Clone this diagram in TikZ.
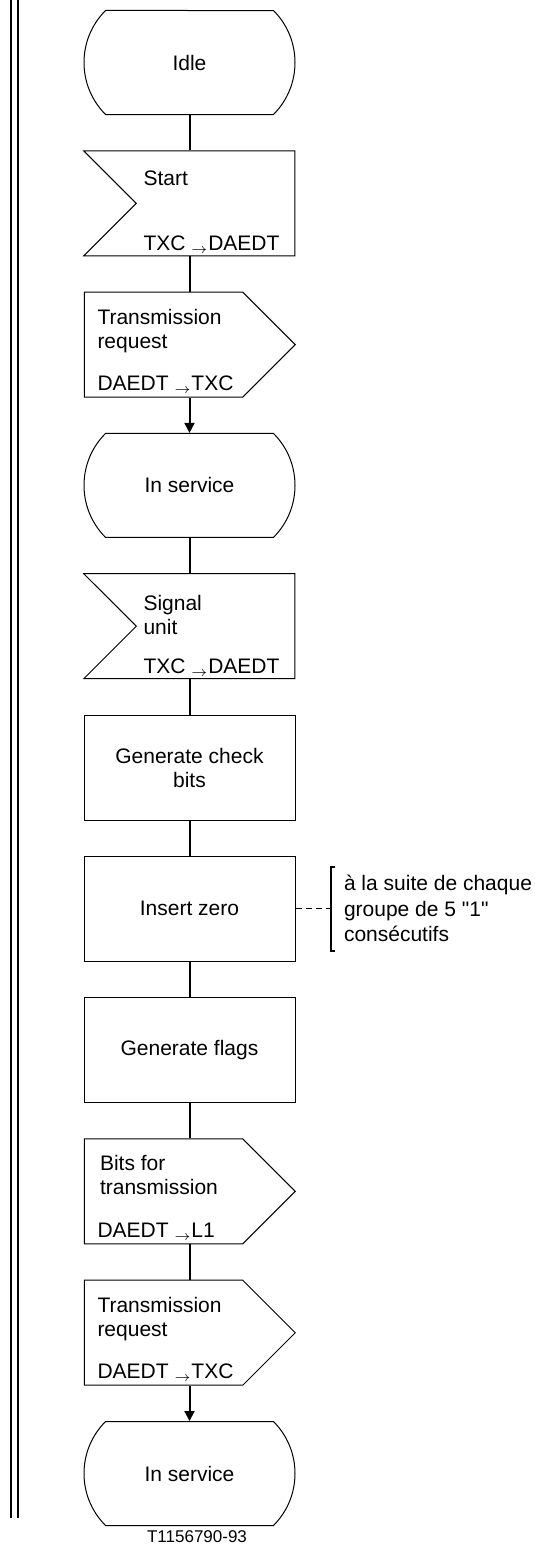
\documentclass[tikz,border=0pt]{standalone}
\usepackage{fontspec}
\setmainfont{Liberation Sans}
\usetikzlibrary{arrows.meta,positioning,shapes.misc,shapes.symbols}
\tikzset{
  every picture/.style={line width=0.5pt, font=\fontsize{10.5pt}{12pt}\selectfont},
  node distance=17.65pt,
  state/.style={draw, rounded rectangle, rounded rectangle arc length=90, minimum width=105.5pt, minimum height=52pt, inner sep=0pt},
  task/.style={draw, rectangle, minimum width=105.5pt, minimum height=52.5pt, align=center, inner sep=0pt},
  inbox/.style={draw, signal, signal from=west, signal to=nowhere, signal pointer angle=90, minimum width=105.5pt, minimum height=52.5pt, inner sep=0pt},
  outbox/.style={draw, signal, signal to=east, signal pointer angle=90, minimum width=105.5pt, minimum height=52.5pt, inner sep=0pt},
  txt/.style={inner sep=0pt, align=left},
  link/.style={line width=1pt},
  flow/.style={link, -{Triangle[length=5pt,width=5pt]}},
  note/.style={inner sep=0pt, align=left, font=\fontsize{10.5pt}{12.75pt}\selectfont},
}

\begin{document}
\begin{tikzpicture}
  \useasboundingbox (0,0) rectangle (267.5pt,-773.5pt);
  % margin rule
  \draw[line width=1pt] (5.5pt,0) -- (5.5pt,-759pt);
  \draw[line width=1pt] (8.75pt,0) -- (8.75pt,-759pt);

  \node[state] (idle) at (94.75pt,-31.25pt) {Idle};
  \node[inbox, below=of idle, xshift=13pt] (start) {};
  \node[txt, anchor=north west] (startT) at ([xshift=-36.25pt,yshift=-10pt]start.north) {Start};
  \node[txt, anchor=base west] (startB) at ([xshift=-36.25pt,yshift=3pt]start.south) {TXC $_{\rightarrow}$DAEDT};
  \node[outbox, below=of start, xshift=-26pt] (req) {};
  \node[txt, anchor=north west] (reqT) at ([xshift=-33.25pt,yshift=-8.5pt]req.north) {Transmission\\request};
  \node[txt, anchor=base west] (reqB) at ([xshift=-33.25pt,yshift=3.75pt]req.south) {DAEDT $_{\rightarrow}$TXC};
  \node[state, below=of req, xshift=13pt] (serv) {In service};
  \node[inbox, below=of serv, xshift=13pt] (su) {};
  \node[txt, anchor=north west] (suT) at ([xshift=-36.25pt,yshift=-11pt]su.north) {Signal\\unit};
  \node[txt, anchor=base west] (suB) at ([xshift=-36.25pt,yshift=2.75pt]su.south) {TXC $_{\rightarrow}$DAEDT};
  \node[task, below=of su, xshift=-13pt] (check) {Generate check\\bits};
  \node[task, below=of check] (zero) {Insert zero};
  \node[task, below=of zero] (flags) {Generate flags};
  \node[outbox, below=of flags, xshift=-13pt] (bits) {};
  \node[txt, anchor=north west] (bitsT) at ([xshift=-32pt,yshift=-8pt]bits.north) {Bits for\\transmission};
  \node[txt, anchor=base west] (bitsB) at ([xshift=-33.25pt,yshift=3.5pt]bits.south) {DAEDT $_{\rightarrow}$L1};
  \node[outbox, below=of bits] (req2) {};
  \node[txt, anchor=north west] (req2T) at ([xshift=-33.25pt,yshift=-8.5pt]req2.north) {Transmission\\request};
  \node[txt, anchor=base west] (req2B) at ([xshift=-33.25pt,yshift=3.75pt]req2.south) {DAEDT $_{\rightarrow}$TXC};
  \node[state, below=of req2, xshift=13pt] (serv2) {In service};

  \draw[link] (idle.south) -- (idle.south |- start.north);
  \draw[link] (idle.south |- start.south) -- (idle.south |- req.north);
  \draw[flow] (serv.north |- req.south) -- (serv.north);
  \draw[link] (serv.south) -- (serv.south |- su.north);
  \draw[link] (check.north |- su.south) -- (check.north);
  \draw[link] (check.south) -- (zero.north);
  \draw[link] (zero.south) -- (flags.north);
  \draw[link] (flags.south) -- (flags.south |- bits.north);
  \draw[link] (flags.south |- bits.south) -- (flags.south |- req2.north);
  \draw[flow] (serv2.north |- req2.south) -- (serv2.north);

  % comment on zero insertion
  \coordinate[right=17.5pt of zero.east] (brk);
  \node[note, anchor=west] (rule) at ([xshift=24pt]zero.east) {à la suite de chaque\\groupe de 5 \textquotedbl 1\textquotedbl\\consécutifs};
  \draw[dash pattern=on 3pt off 2pt] (zero.east) -- (brk);
  \draw[line width=1pt] ([shift={(2pt,21pt)}]brk) -- ++(-2pt,0) -- ++(0,-42pt) -- ++(2pt,0);

  \node[font=\fontsize{8.5pt}{10pt}\selectfont, inner sep=0pt] (fig) at (98.5pt,-768.5pt) {T1156790-93};
\end{tikzpicture}
\end{document}
